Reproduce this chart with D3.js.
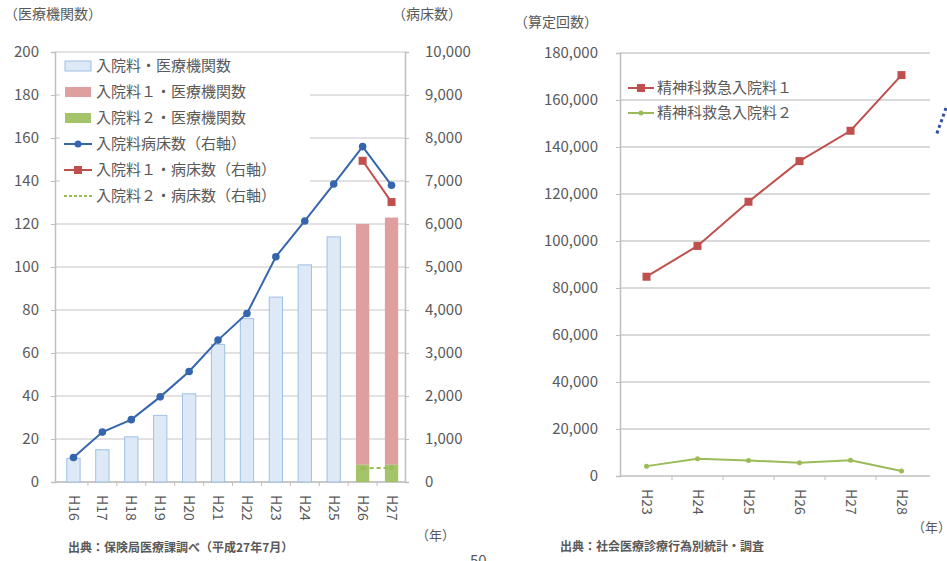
<!DOCTYPE html>
<html>
<head>
<meta charset="utf-8">
<script src="https://cdn.jsdelivr.net/npm/d3@7"></script>
<style>
  body { margin: 0; background: #fff; }
  text { font-family: "Noto Sans CJK JP", "Noto Sans", sans-serif; fill: #595959; }
</style>
</head>
<body>
<script>
// left chart: 入院料 facilities (bars, left axis) and beds (lines, right axis)
var yearsL = ['H16', 'H17', 'H18', 'H19', 'H20', 'H21', 'H22', 'H23', 'H24', 'H25', 'H26', 'H27'];
var facilities = [11, 15, 21, 31, 41, 64, 76, 86, 101, 114, null, null];
var facilities1 = [null, null, null, null, null, null, null, null, null, null, 112, 115];
var facilities2 = [null, null, null, null, null, null, null, null, null, null, 8, 8];
var beds = [570, 1160, 1450, 1980, 2570, 3300, 3920, 5240, 6070, 6930, 7800, 6900];
var beds1 = [null, null, null, null, null, null, null, null, null, null, 7470, 6510];
var beds2 = [null, null, null, null, null, null, null, null, null, null, 320, 330];
var ticksL = [0, 20, 40, 60, 80, 100, 120, 140, 160, 180, 200];
var ticksBeds = [0, 1000, 2000, 3000, 4000, 5000, 6000, 7000, 8000, 9000, 10000];

// right chart: 算定回数
var yearsR = ['H23', 'H24', 'H25', 'H26', 'H27', 'H28'];
var kyu1 = [84800, 97900, 116700, 134000, 146900, 170600];
var kyu2 = [4200, 7300, 6600, 5600, 6700, 2100];
var ticksR = [0, 20000, 40000, 60000, 80000, 100000, 120000, 140000, 160000, 180000];

var blue = '#3566ad', red = '#c0504d', green = '#9bbb59';
var fmt = d3.format(',');

var svg = d3.select('body').append('svg')
  .attr('width', 947).attr('height', 561);

// ---------- left chart ----------
var x = d3.scaleBand().domain(yearsL).range([59, 406]).paddingInner(0.54).paddingOuter(0.27);
var y = d3.scaleLinear().domain([0, 200]).range([482, 52]);
var yb = d3.scaleLinear().domain([0, 10000]).range([482, 52]);

var L = svg.append('g');

L.selectAll('.grid').data(ticksL).enter().append('line')
  .attr('x1', 55).attr('x2', 405)
  .attr('y1', d => y(d)).attr('y2', d => y(d))
  .attr('stroke', '#d9d9d9').attr('stroke-width', 1.5);

var axL = L.append('g').attr('transform', 'translate(55,0)')
  .call(d3.axisLeft(y).tickValues(ticksL).tickSize(4).tickPadding(12));
var axB = L.append('g').attr('transform', 'translate(405,0)')
  .call(d3.axisRight(yb).tickValues(ticksBeds).tickSize(4).tickPadding(16).tickFormat(fmt));
[axL, axB].forEach(function (a) {
  a.select('.domain').attr('stroke', '#bfbfbf').attr('stroke-width', 1.5);
  a.selectAll('.tick line').attr('stroke', '#bfbfbf');
  a.selectAll('text').style('font-size', '15px').attr('fill', '#595959');
});

// x axis with ticks between categories
L.append('line').attr('x1', 55).attr('x2', 405).attr('y1', 482).attr('y2', 482)
  .attr('stroke', '#bfbfbf').attr('stroke-width', 1.5);
L.selectAll('.xt').data(yearsL.slice(1)).enter().append('line')
  .attr('x1', d => x(d) - x.step() * x.paddingInner() / 2)
  .attr('x2', d => x(d) - x.step() * x.paddingInner() / 2)
  .attr('y1', 482).attr('y2', 486).attr('stroke', '#bfbfbf');
L.selectAll('.xl').data(yearsL).enter().append('text')
  .attr('transform', d => 'translate(' + (x(d) + x.bandwidth() / 2) + ',495) rotate(90)')
  .attr('dy', '0.35em').style('font-size', '14px').text(d => d);

// bars
L.selectAll('.bar0').data(yearsL.map((d, i) => [d, facilities[i]]).filter(d => d[1] != null))
  .enter().append('rect')
  .attr('x', d => x(d[0])).attr('width', x.bandwidth())
  .attr('y', d => y(d[1])).attr('height', d => y(0) - y(d[1]))
  .attr('fill', '#dde9f7').attr('stroke', '#9fc0e6').attr('stroke-width', 1);
L.selectAll('.bar1').data(yearsL.map((d, i) => [d, facilities2[i], facilities1[i]]).filter(d => d[2] != null))
  .enter().append('rect')
  .attr('x', d => x(d[0])).attr('width', x.bandwidth())
  .attr('y', d => y(d[1] + d[2])).attr('height', d => y(d[1]) - y(d[1] + d[2]))
  .attr('fill', '#dea09e');
L.selectAll('.bar2').data(yearsL.map((d, i) => [d, facilities2[i]]).filter(d => d[1] != null))
  .enter().append('rect')
  .attr('x', d => x(d[0])).attr('width', x.bandwidth())
  .attr('y', d => y(d[1])).attr('height', d => y(0) - y(d[1]))
  .attr('fill', '#a4c46a');

// legend box (drawn before lines, lines pass over it)
var lg = L.append('g');
lg.append('rect').attr('x', 60).attr('y', 54).attr('width', 250).attr('height', 158).attr('fill', '#fff');
var legL = [
  { t: '入院料・医療機関数', k: 'bar', c: '#dde9f7', s: '#9fc0e6' },
  { t: '入院料１・医療機関数', k: 'bar', c: '#dea09e' },
  { t: '入院料２・医療機関数', k: 'bar', c: '#a4c46a' },
  { t: '入院料病床数（右軸）', k: 'line', c: blue, m: 'circle' },
  { t: '入院料１・病床数（右軸）', k: 'line', c: red, m: 'square' },
  { t: '入院料２・病床数（右軸）', k: 'line', c: green, m: 'dash' }
];
legL.forEach(function (e, i) {
  var cy = 66 + i * 26;
  if (e.k === 'bar') {
    lg.append('rect').attr('x', 65).attr('y', cy - 5).attr('width', 26).attr('height', 10)
      .attr('fill', e.c).attr('stroke', e.s || 'none');
  } else {
    lg.append('line').attr('x1', 64).attr('x2', 92).attr('y1', cy).attr('y2', cy)
      .attr('stroke', e.c).attr('stroke-width', 2).attr('stroke-dasharray', e.m === 'dash' ? '3,2' : null);
    if (e.m === 'circle') lg.append('circle').attr('cx', 78).attr('cy', cy).attr('r', 3.5).attr('fill', e.c);
    if (e.m === 'square') lg.append('rect').attr('x', 74).attr('y', cy - 4).attr('width', 8).attr('height', 8).attr('fill', red);
  }
  lg.append('text').attr('x', 96).attr('y', cy).attr('dy', '0.35em').style('font-size', '15px').text(e.t);
});

function drawLine(g, xs, ys, cats, vals, color, marker, dash) {
  var pts = cats.map((d, i) => [d, vals[i]]).filter(d => d[1] != null);
  var line = d3.line().x(d => xs(d[0]) + xs.bandwidth() / 2).y(d => ys(d[1]));
  g.append('path').datum(pts).attr('d', line).attr('fill', 'none')
    .attr('stroke', color).attr('stroke-width', 2).attr('stroke-dasharray', dash || null);
  if (marker === 'circle') {
    g.selectAll(null).data(pts).enter().append('circle')
      .attr('cx', d => xs(d[0]) + xs.bandwidth() / 2).attr('cy', d => ys(d[1]))
      .attr('r', 3.8).attr('fill', color);
  } else if (marker === 'square') {
    g.selectAll(null).data(pts).enter().append('rect')
      .attr('x', d => xs(d[0]) + xs.bandwidth() / 2 - 4).attr('y', d => ys(d[1]) - 4)
      .attr('width', 8).attr('height', 8).attr('fill', color);
  } else if (marker === 'small') {
    g.selectAll(null).data(pts).enter().append('circle')
      .attr('cx', d => xs(d[0]) + xs.bandwidth() / 2).attr('cy', d => ys(d[1]))
      .attr('r', 2.5).attr('fill', color);
  }
}
drawLine(L, x, yb, yearsL, beds, blue, 'circle');
drawLine(L, x, yb, yearsL, beds1, red, 'square');
drawLine(L, x, yb, yearsL, beds2, green, 'small', '4,3');

L.append('text').attr('x', 4).attr('y', 14).attr('dy', '0.35em').style('font-size', '14px').text('（医療機関数）');
L.append('text').attr('x', 392).attr('y', 14).attr('dy', '0.35em').style('font-size', '14px').text('（病床数）');
L.append('text').attr('x', 416).attr('y', 535).attr('dy', '0.35em').style('font-size', '13px').text('（年）');
L.append('text').attr('x', 68).attr('y', 548).attr('dy', '0.35em').style('font-size', '12px')
  .style('font-weight', 'bold').attr('fill', '#404040').text('出典：保険局医療課調べ（平成27年7月）');
L.append('text').attr('x', 470).attr('y', 566).style('font-size', '15px').text('50');

// ---------- right chart ----------
var xr = d3.scaleBand().domain(yearsR).range([621, 927]);
var yr = d3.scaleLinear().domain([0, 180000]).range([476, 53]);
var R = svg.append('g');

R.selectAll('.grid').data(ticksR.slice(1)).enter().append('line')
  .attr('x1', 620).attr('x2', 930)
  .attr('y1', d => yr(d)).attr('y2', d => yr(d))
  .attr('stroke', '#d9d9d9').attr('stroke-width', 2);

var axR = R.append('g').attr('transform', 'translate(620,0)')
  .call(d3.axisLeft(yr).tickValues(ticksR).tickSize(4).tickPadding(18).tickFormat(fmt));
axR.select('.domain').attr('stroke', '#bfbfbf').attr('stroke-width', 1.5);
axR.selectAll('.tick line').attr('stroke', '#bfbfbf');
axR.selectAll('text').style('font-size', '15px').attr('fill', '#595959');

R.append('line').attr('x1', 620).attr('x2', 930).attr('y1', 476).attr('y2', 476)
  .attr('stroke', '#bfbfbf').attr('stroke-width', 1.5);
R.selectAll('.xt').data(yearsR.slice(1)).enter().append('line')
  .attr('x1', d => xr(d)).attr('x2', d => xr(d))
  .attr('y1', 476).attr('y2', 480).attr('stroke', '#bfbfbf');
R.selectAll('.xl').data(yearsR).enter().append('text')
  .attr('transform', d => 'translate(' + (xr(d) + xr.bandwidth() / 2) + ',489) rotate(90)')
  .attr('dy', '0.35em').style('font-size', '14px').text(d => d);

drawLine(R, xr, yr, yearsR, kyu1, red, 'square');
drawLine(R, xr, yr, yearsR, kyu2, green, 'small');

var legR = [
  { t: '精神科救急入院料１', c: red, m: 'square' },
  { t: '精神科救急入院料２', c: green, m: 'small' }
];
legR.forEach(function (e, i) {
  var cy = 88 + i * 25;
  R.append('line').attr('x1', 628).attr('x2', 654).attr('y1', cy).attr('y2', cy)
    .attr('stroke', e.c).attr('stroke-width', 2);
  if (e.m === 'square') R.append('rect').attr('x', 637).attr('y', cy - 4).attr('width', 8).attr('height', 8).attr('fill', e.c);
  else R.append('circle').attr('cx', 641).attr('cy', cy).attr('r', 2.5).attr('fill', e.c);
  R.append('text').attr('x', 657).attr('y', cy).attr('dy', '0.35em').style('font-size', '15px').text(e.t);
});

R.append('text').attr('x', 514).attr('y', 22).attr('dy', '0.35em').style('font-size', '14px').text('（算定回数）');
R.append('text').attr('x', 912).attr('y', 527).attr('dy', '0.35em').style('font-size', '13px').text('（年）');
R.append('text').attr('x', 560).attr('y', 547).attr('dy', '0.35em').style('font-size', '12px')
  .style('font-weight', 'bold').attr('fill', '#404040').text('出典：社会医療診療行為別統計・調査');

// fragment of an arrow from the next figure at the right edge
R.append('path').attr('d', 'M946,108 L936,136').attr('stroke', '#2f4f9f')
  .attr('stroke-width', 3).attr('stroke-dasharray', '3,3').attr('fill', 'none');
</script>
</body>
</html>
